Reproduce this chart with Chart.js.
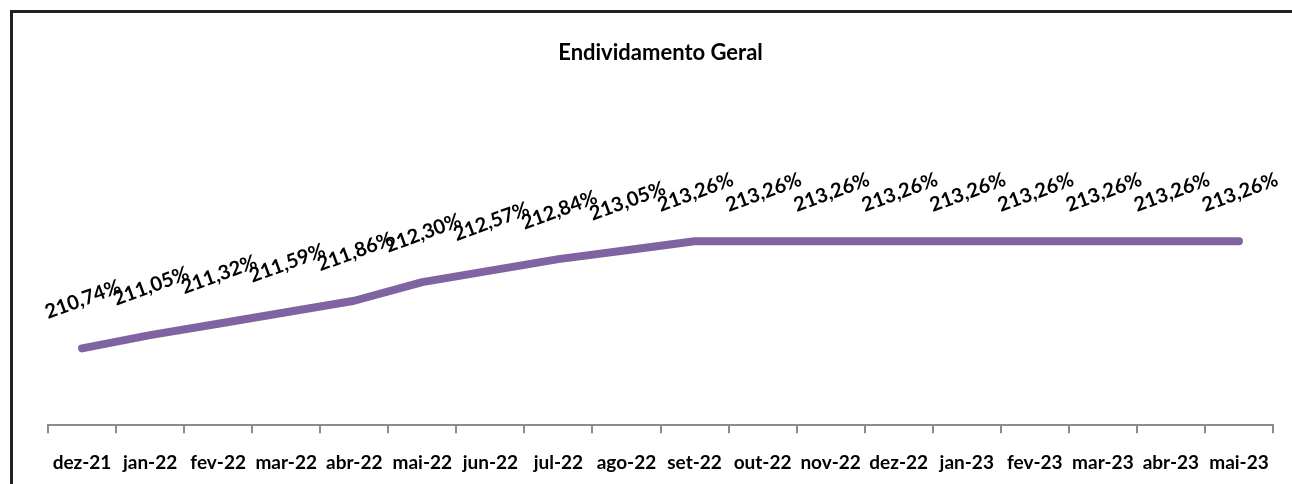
<!DOCTYPE html>
<html>
<head>
<meta charset="utf-8">
<script src="https://cdn.jsdelivr.net/npm/chart.js@4"></script>
<style>
  html, body { margin: 0; padding: 0; background: #fff; overflow: hidden; }
  #wrap { position: relative; width: 1292px; height: 484px; }
  #frame {
    position: absolute; left: 10px; top: 10px; width: 1400px; height: 600px;
    border: 3px solid #222; box-sizing: border-box;
  }
  canvas { position: absolute; left: 0; top: 0; }
</style>
</head>
<body>
<div id="wrap">
  <div id="frame"></div>
  <canvas id="canvas" width="1292" height="484"></canvas>
</div>
<script>
const months = ['dez-21', 'jan-22', 'fev-22', 'mar-22', 'abr-22', 'mai-22', 'jun-22', 'jul-22', 'ago-22',
    'set-22', 'out-22', 'nov-22', 'dez-22', 'jan-23', 'fev-23', 'mar-23', 'abr-23', 'mai-23']
const endividamento = [210.74, 211.05, 211.32, 211.59, 211.86, 212.30, 212.57, 212.84, 213.05,
    213.26, 213.26, 213.26, 213.26, 213.26, 213.26, 213.26, 213.26, 213.26]

const fontFamily = "Lato, 'DejaVu Sans Condensed', sans-serif"

const formatPct = v => v.toFixed(2).replace('.', ',') + '%'

// draws the rotated value labels above each point
const valueLabels = {
    id: 'valueLabels',
    afterDatasetsDraw: chart => {
        const ctx = chart.ctx
        const meta = chart.getDatasetMeta(0)
        ctx.save()
        ctx.font = `bold 20px ${fontFamily}`
        ctx.fillStyle = '#000'
        ctx.textAlign = 'center'
        ctx.textBaseline = 'middle'
        meta.data.forEach((pt, i) => {
            ctx.save()
            ctx.translate(pt.x + 1, pt.y - 49)
            ctx.rotate(-20 * Math.PI / 180)
            ctx.fillText(formatPct(endividamento[i]), 0, 0)
            ctx.restore()
        })
        ctx.restore()
    }
}

const ctx = document.querySelector('#canvas').getContext('2d')
const myChart = new Chart(ctx, {
    type: 'line',
    data: {
        labels: months,
        datasets: [{
            label: 'Endividamento Geral',
            data: endividamento,
            borderColor: '#8064A2',
            backgroundColor: '#8064A2',
            borderWidth: 8,
            borderCapStyle: 'round',
            borderJoinStyle: 'round',
            pointRadius: 0,
            tension: 0
        }]
    },
    options: {
        responsive: false,
        animation: false,
        layout: {
            padding: { left: 48, right: 19, top: 30, bottom: -8 }
        },
        plugins: {
            legend: { display: false },
            tooltip: { enabled: false },
            title: {
                display: true,
                text: 'Endividamento Geral',
                color: '#000',
                font: { family: fontFamily, size: 22, weight: 'bold' },
                padding: { top: 10, bottom: 101 }
            }
        },
        scales: {
            x: {
                offset: true,
                grid: {
                    offset: true,
                    drawOnChartArea: false,
                    tickLength: 8,
                    color: '#8c8c8c',
                    lineWidth: 2
                },
                border: { color: '#8c8c8c', width: 2 },
                ticks: {
                    color: '#000',
                    padding: 18,
                    maxRotation: 0,
                    autoSkip: false,
                    font: { family: fontFamily, size: 19, weight: 'bold' }
                }
            },
            y: {
                display: false,
                min: 208.93,
                max: 215
            }
        }
    },
    plugins: [valueLabels]
})
</script>
</body>
</html>
